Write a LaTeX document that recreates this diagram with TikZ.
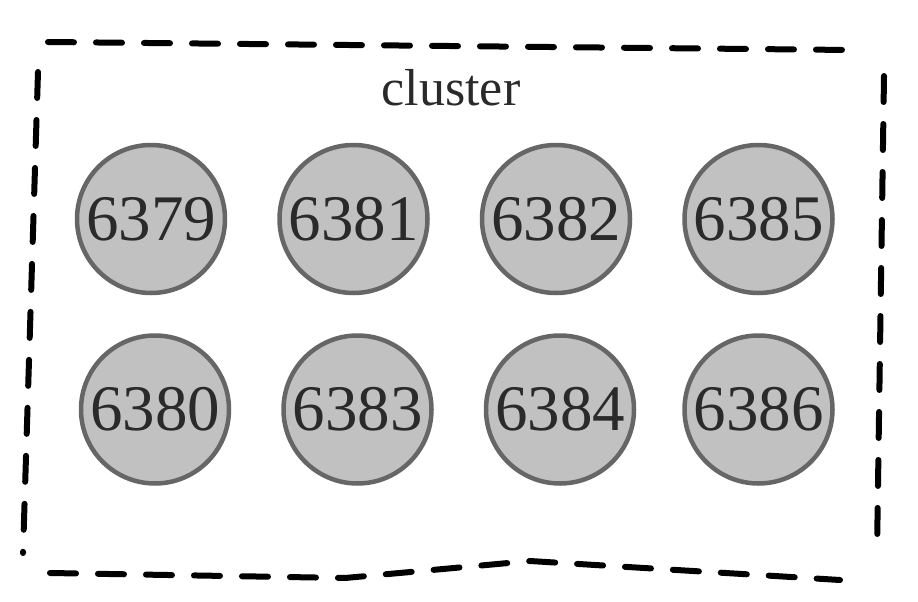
\documentclass[tikz,border=0pt]{standalone}
\usepackage{fontspec}
\setmainfont{Liberation Serif}
\usepackage{tikz}
\usetikzlibrary{positioning}
\usepackage{xcolor}
\definecolor{cring}{HTML}{666666}
\definecolor{cport}{HTML}{C1C1C1}
\definecolor{cink}{HTML}{2A2A2A}

\begin{document}
\begin{tikzpicture}[
  x=1pt, y=-1pt,
  node distance=50pt and 50pt,
  port/.style={circle, draw=cring, fill=cport, line width=4.5pt, minimum size=148pt,
               inner sep=0pt, text=cink, font=\fontsize{65}{65}\selectfont},
  edge/.style={line width=6pt, line cap=round, dash pattern=on 26pt off 22pt},
]
\useasboundingbox (0,0) rectangle (918,602);
% ---------- hand-drawn cluster frame ----------
\coordinate (tl) at (48,42);
\coordinate (tr) at (850,50);
\coordinate (lt) at (38,72);
\coordinate (lb) at (23,553);
\coordinate (rt) at (884,76);
\coordinate (rb) at (877,553);
\coordinate (bl) at (50,573);
\coordinate (bk) at (345,578);
\coordinate (bp) at (530,561);
\coordinate (br) at (840,580);
\draw[edge] (tl) -- (tr);
\draw[edge] (lt) -- (lb);
\draw[edge] (rt) -- (rb);
\draw[edge] (bl) -- (bk) -- (bp) -- (br);
\node[font=\fontsize{52}{52}\selectfont, text=cink] (title) at (451,88) {cluster};
% ---------- redis ports ----------
\node[port] (p6379) at (151,219) {6379};
\node[port, right=of p6379] (p6381) {6381};
\node[port, right=of p6381] (p6382) {6382};
\node[port, right=of p6382] (p6385) {6385};
\node[port, below=38pt of p6379, xshift=4pt] (p6380) {6380};
\node[port, right=of p6380] (p6383) {6383};
\node[port, right=of p6383] (p6384) {6384};
\node[port, right=46pt of p6384] (p6386) {6386};
\end{tikzpicture}
\end{document}
